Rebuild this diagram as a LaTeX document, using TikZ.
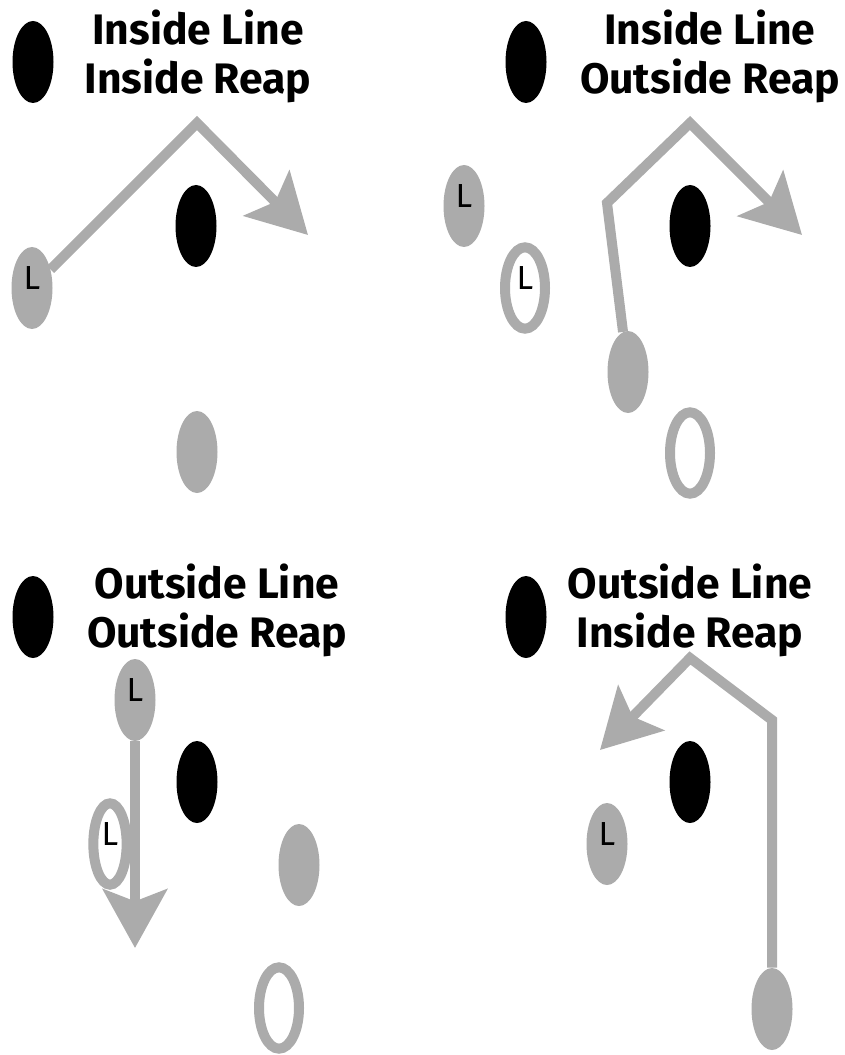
\documentclass[tikz,border=0pt]{standalone}
\usepackage{fontspec}
\setmainfont{Fira Sans}
\usetikzlibrary{shapes.geometric,arrows.meta}
\definecolor{gry}{RGB}{171,171,171}
\begin{document}
\begin{tikzpicture}[x=0.75pt,y=-0.75pt,
  blk/.style={ellipse,fill=black,minimum width=30.75pt,minimum height=61.5pt,inner sep=0pt},
  gfill/.style={ellipse,fill=gry,minimum width=30.75pt,minimum height=61.5pt,inner sep=0pt,font=\fontsize{25}{25}\selectfont,text depth=15pt},
  ghollow/.style={ellipse,draw=gry,line width=7.5pt,minimum width=30pt,minimum height=61pt,inner sep=0pt,font=\fontsize{25}{25}\selectfont,text depth=15pt},
  title/.style={anchor=north,inner sep=0pt,align=center,font=\bfseries\fontsize{32}{36.75}\selectfont},
  route/.style={draw=gry,line width=7.5pt,line join=miter,-{Stealth[length=44pt,width=48pt,inset=9pt]}}
]
\useasboundingbox (0,0) rectangle (844,1055);

% Panel 1
\node[blk] (b1a) at (33,62) {};
\node[title] (t1) at (198,10) {Inside Line\\Inside Reap};
\node[gfill] (L1) at (32,288) {L};
\node[blk] (b1b) at (196,226) {};
\node[gfill] (g1) at (197,452) {};
\coordinate (apex1) at (197,123);
\coordinate (tip1) at (308,235);
\draw[route] (L1) -- (apex1) -- (tip1);

% Panel 2
\node[blk] (b2a) at (526,62) {};
\node[title] (t2) at (710,10) {Inside Line\\Outside Reap};
\node[gfill] (L2a) at (464,206) {L};
\node[ghollow] (L2b) at (525,288) {L};
\node[blk] (b2b) at (690,226) {};
\node[gfill] (g2) at (628,372) {};
\node[ghollow] (h2) at (690,453) {};
\coordinate (bend2) at (607,203);
\coordinate (apex2) at (690,123);
\coordinate (tip2) at (802,235);
\draw[route] (g2) -- (bend2) -- (apex2) -- (tip2);

% Panel 3
\node[blk] (b3a) at (33,617) {};
\node[title] (t3) at (217,564) {Outside Line\\Outside Reap};
\node[gfill] (L3a) at (135,700) {L};
\node[ghollow,minimum width=25pt] (L3b) at (110,844) {L};
\node[blk] (b3b) at (197,782) {};
\node[gfill] (g3) at (299,865) {};
\node[ghollow] (h3) at (279,1008) {};
\coordinate (tip3) at (135,948);
\draw[route] (L3a) -- (tip3);

% Panel 4
\node[blk] (b4a) at (526,617) {};
\node[title] (t4) at (690,564) {Outside Line\\Inside Reap};
\node[gfill] (L4) at (607,844) {L};
\node[blk] (b4b) at (690,782) {};
\node[gfill] (g4) at (772,1009) {};
\coordinate (bend4) at (772,720);
\coordinate (apex4) at (690,658);
\coordinate (tip4) at (600,750);
\draw[route] (g4) -- (bend4) -- (apex4) -- (tip4);
\end{tikzpicture}
\end{document}
